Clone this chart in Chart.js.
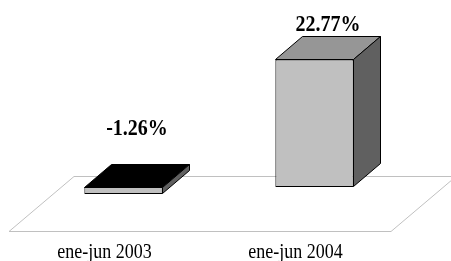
<!DOCTYPE html>
<html>
<head>
<meta charset="utf-8">
<script src="https://cdn.jsdelivr.net/npm/chart.js"></script>
<style>
  html, body { margin: 0; padding: 0; background: #fff; }
  #wrap { width: 451px; height: 261px; }
</style>
</head>
<body>
<div id="wrap"><canvas id="myChart"></canvas></div>
<script>
    const periods = ['ene-jun 2003', 'ene-jun 2004'];
    const growth = [-1.26, 22.77];

    const frontColors = ['#C0C0C0', '#C0C0C0'];
    const topColors = ['#000000', '#969696'];
    const sideColors = ['#606060', '#606060'];

    // depth of a bar, and the gap between the bars and the floor edges
    const DX = 27, DY = 23;
    const GX = 19, GY = 16;
    const SERIF = '"Liberation Serif", "Times New Roman", serif';

    // the original text is a bit taller than wide
    function tallText(ctx, text, x, y, font) {
        ctx.save();
        ctx.font = font;
        ctx.fillStyle = '#000';
        ctx.textAlign = 'center';
        ctx.textBaseline = 'alphabetic';
        ctx.translate(x, y);
        ctx.scale(1, 1.2);
        ctx.fillText(text, 0, 0);
        ctx.restore();
    }

    const floor = {
        id: 'floor',
        beforeDatasetsDraw(chart) {
            const {ctx, chartArea: {left, right}, scales: {y}} = chart;
            const yb = y.getPixelForValue(y.min);
            ctx.save();
            ctx.strokeStyle = '#C0C0C0';
            ctx.lineWidth = 1;
            ctx.beginPath();
            ctx.moveTo(left - GX, yb + GY + 0.5);
            ctx.lineTo(right - GX, yb + GY + 0.5);
            ctx.lineTo(right + DX + GX, yb - DY - GY + 0.5);
            ctx.lineTo(left + DX + GX, yb - DY - GY + 0.5);
            ctx.closePath();
            ctx.stroke();
            ctx.restore();
        }
    };

    const box3d = {
        id: 'box3d',
        afterDatasetsDraw(chart) {
            const {ctx, chartArea, scales} = chart;
            const bars = chart.getDatasetMeta(0).data;
            ctx.save();
            ctx.strokeStyle = '#000';
            ctx.lineWidth = 1;
            ctx.lineJoin = 'round';
            bars.forEach((bar, i) => {
                const {x, y, base, width} = bar.getProps(['x', 'y', 'base', 'width'], true);
                const l = Math.round(x - width / 2) + 0.5;
                const r = Math.round(x + width / 2) - 0.5;
                const t = Math.round(Math.min(y, base)) + 0.5;
                const b = Math.round(Math.max(y, base)) - 0.5;

                ctx.fillStyle = topColors[i];
                ctx.beginPath();
                ctx.moveTo(l, t);
                ctx.lineTo(r, t);
                ctx.lineTo(r + DX, t - DY);
                ctx.lineTo(l + DX, t - DY);
                ctx.closePath();
                ctx.fill();
                ctx.stroke();

                ctx.fillStyle = sideColors[i];
                ctx.beginPath();
                ctx.moveTo(r, t);
                ctx.lineTo(r + DX, t - DY);
                ctx.lineTo(r + DX, b - DY);
                ctx.lineTo(r, b);
                ctx.closePath();
                ctx.fill();
                ctx.stroke();

                const v = growth[i];
                const gap = v < 0 ? 30 : 6;
                tallText(ctx, v.toFixed(2) + '%', x + DX / 2, t - DY - gap, 'bold 20px ' + SERIF);
            });

            // category labels sit under the front edge of the floor
            periods.forEach((p, i) => {
                const px = scales.x.getPixelForValue(i) - GX;
                tallText(ctx, p, px, chartArea.bottom + 43, '18px ' + SERIF);
            });
            ctx.restore();
        }
    };

    const data = {
        labels: periods,
        datasets: [{
            data: growth,
            backgroundColor: frontColors,
            borderColor: '#000',
            borderWidth: 1,
            borderSkipped: false,
            categoryPercentage: 1,
            barPercentage: 0.41
        }]
    };

    const config = {
        type: 'bar',
        data,
        options: {
            responsive: true,
            maintainAspectRatio: false,
            animation: false,
            layout: {
                padding: {top: 47, left: 28, right: 41, bottom: 46}
            },
            plugins: {
                legend: {display: false},
                tooltip: {enabled: false}
            },
            scales: {
                y: {display: false, min: -5, max: 25},
                x: {display: false}
            }
        },
        plugins: [floor, box3d]
    };

    const myChart = new Chart(document.getElementById('myChart'), config);
</script>
</body>
</html>
